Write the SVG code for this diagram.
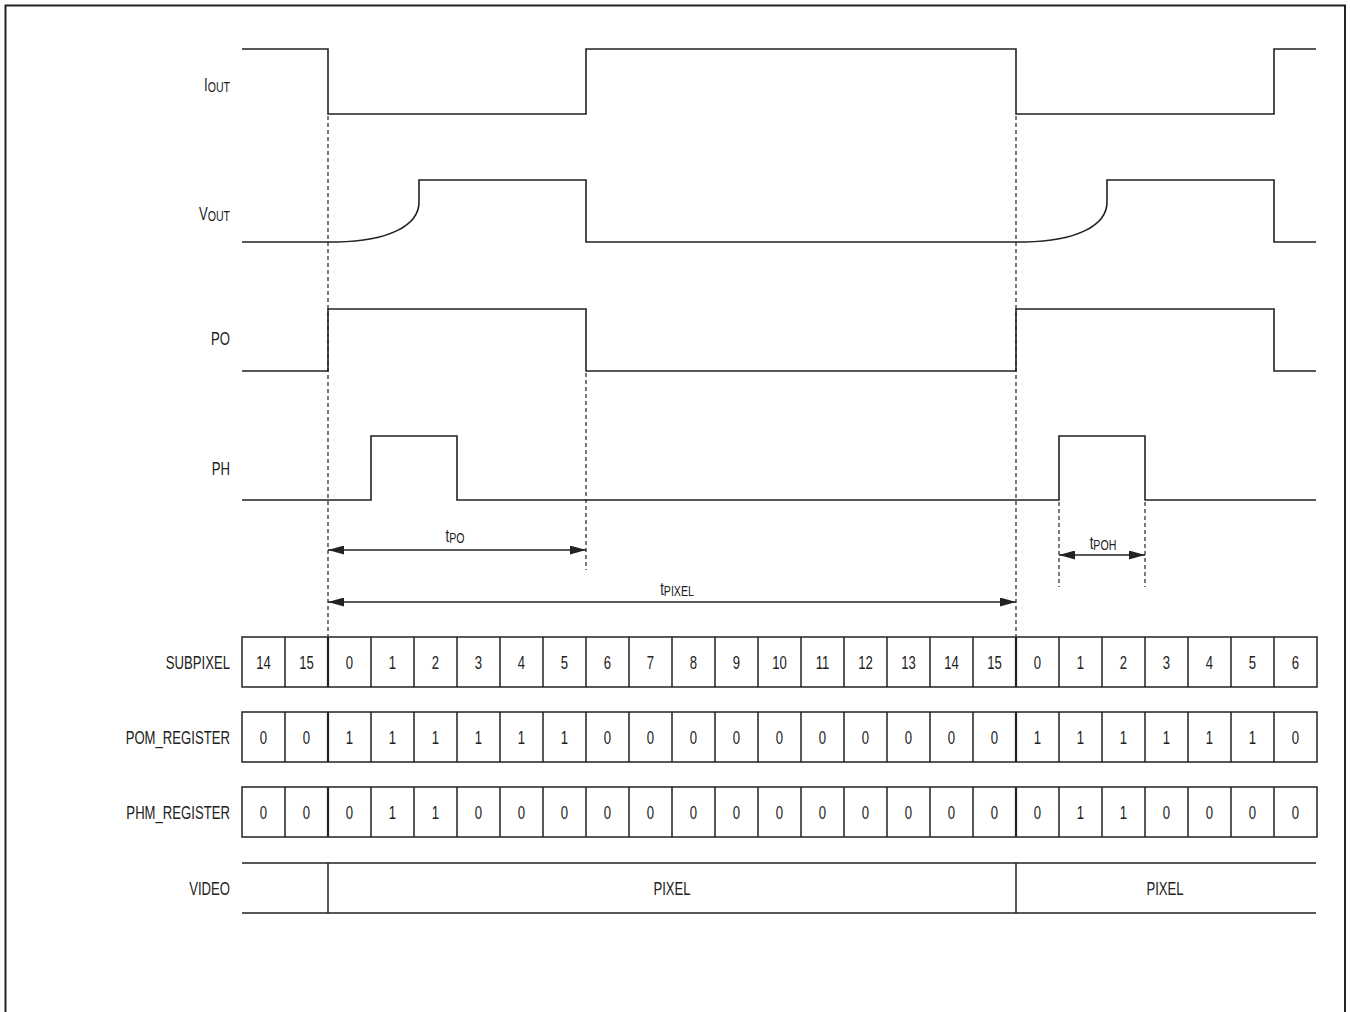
<svg xmlns="http://www.w3.org/2000/svg" width="1350" height="1012" viewBox="0 0 1350 1012">
<defs>
<style>
.bg{fill:#fff}
.frame{fill:none;stroke:#222;stroke-width:2}
.wave{fill:none;stroke:#222;stroke-width:1.6;stroke-linejoin:miter}
.dash{fill:none;stroke:#222;stroke-width:1.2;stroke-dasharray:4 3}
.dim{fill:none;stroke:#222;stroke-width:1.4}
.cell{fill:none;stroke:#222;stroke-width:1.5}
.bold{fill:none;stroke:#222;stroke-width:2.2}
text{font-family:"Liberation Sans",Arial,sans-serif;font-size:18px;fill:#222}
.lbl{text-anchor:end}
.c{text-anchor:middle}
.sub{font-size:14.5px}
</style>
<marker id="ah" viewBox="0 0 16 9" refX="16" refY="4.5" markerWidth="16" markerHeight="9" markerUnits="userSpaceOnUse" orient="auto-start-reverse">
<path d="M0,0 L16,4.5 L0,9 Z" fill="#222"/>
</marker>
</defs>
<rect class="bg" x="0" y="0" width="1350" height="1012"/>
<path class="frame" d="M5.5,1020 V5.5 H1345 V1020"/>

<g id="signal-labels">
<text class="lbl" transform="translate(230 91) scale(.73 1)">I<tspan class="sub" dy="1">OUT</tspan></text>
<text class="lbl" transform="translate(230 220) scale(.73 1)">V<tspan class="sub" dy="1">OUT</tspan></text>
<text class="lbl" transform="translate(230 345) scale(.73 1)">PO</text>
<text class="lbl" transform="translate(230 475) scale(.73 1)">PH</text>
</g>

<g id="iout">
<path class="wave" d="M242,49 H328 V114 H586 V49 H1016 V114 H1274 V49 H1316"/>
</g>
<g id="vout">
<path class="wave" d="M242,242 H337 C388,241 419,226 419,202 V180 H586 V242 H1025 C1076,241 1107,226 1107,202 V180 H1274 V242 H1316"/>
</g>
<g id="po">
<path class="wave" d="M242,371 H328 V309 H586 V371 H1016 V309 H1274 V371 H1316"/>
</g>
<g id="ph">
<path class="wave" d="M242,500 H371 V436 H457 V500 H1059 V436 H1145 V500 H1316"/>
</g>

<g id="connectors">
<line class="dash" x1="328" y1="116" x2="328" y2="636"/>
<line class="dash" x1="586" y1="373" x2="586" y2="570"/>
<line class="dash" x1="1016" y1="116" x2="1016" y2="636"/>
<line class="dash" x1="1059" y1="502" x2="1059" y2="587"/>
<line class="dash" x1="1145" y1="502" x2="1145" y2="587"/>
<line class="dim" x1="328" y1="550" x2="586" y2="550" marker-start="url(#ah)" marker-end="url(#ah)"/>
<line class="dim" x1="328" y1="602" x2="1016" y2="602" marker-start="url(#ah)" marker-end="url(#ah)"/>
<line class="dim" x1="1059" y1="555" x2="1145" y2="555" marker-start="url(#ah)" marker-end="url(#ah)"/>
</g>

<g id="timing-labels">
<text class="c" transform="translate(455 542) scale(.73 1)">t<tspan class="sub" dy="1">PO</tspan></text>
<text class="c" transform="translate(677 595) scale(.73 1)">t<tspan class="sub" dy="1">PIXEL</tspan></text>
<text class="c" transform="translate(1103 549) scale(.73 1)">t<tspan class="sub" dy="1">POH</tspan></text>
</g>

<g id="subpixel">
<text class="lbl" transform="translate(230 668.5) scale(.73 1)">SUBPIXEL</text>
<rect class="cell" x="242" y="637" width="1075" height="50"/>
<path class="cell" d="M285,637V687M371,637V687M414,637V687M457,637V687M500,637V687M543,637V687M586,637V687M629,637V687M672,637V687M715,637V687M758,637V687M801,637V687M844,637V687M887,637V687M930,637V687M973,637V687M1059,637V687M1102,637V687M1145,637V687M1188,637V687M1231,637V687M1274,637V687"/>
<path class="bold" d="M328,637V687M1016,637V687"/>
<g class="c">
<text class="c" transform="translate(263.5 668.5) scale(.73 1)">14</text>
<text class="c" transform="translate(306.5 668.5) scale(.73 1)">15</text>
<text class="c" transform="translate(349.5 668.5) scale(.73 1)">0</text>
<text class="c" transform="translate(392.5 668.5) scale(.73 1)">1</text>
<text class="c" transform="translate(435.5 668.5) scale(.73 1)">2</text>
<text class="c" transform="translate(478.5 668.5) scale(.73 1)">3</text>
<text class="c" transform="translate(521.5 668.5) scale(.73 1)">4</text>
<text class="c" transform="translate(564.5 668.5) scale(.73 1)">5</text>
<text class="c" transform="translate(607.5 668.5) scale(.73 1)">6</text>
<text class="c" transform="translate(650.5 668.5) scale(.73 1)">7</text>
<text class="c" transform="translate(693.5 668.5) scale(.73 1)">8</text>
<text class="c" transform="translate(736.5 668.5) scale(.73 1)">9</text>
<text class="c" transform="translate(779.5 668.5) scale(.73 1)">10</text>
<text class="c" transform="translate(822.5 668.5) scale(.73 1)">11</text>
<text class="c" transform="translate(865.5 668.5) scale(.73 1)">12</text>
<text class="c" transform="translate(908.5 668.5) scale(.73 1)">13</text>
<text class="c" transform="translate(951.5 668.5) scale(.73 1)">14</text>
<text class="c" transform="translate(994.5 668.5) scale(.73 1)">15</text>
<text class="c" transform="translate(1037.5 668.5) scale(.73 1)">0</text>
<text class="c" transform="translate(1080.5 668.5) scale(.73 1)">1</text>
<text class="c" transform="translate(1123.5 668.5) scale(.73 1)">2</text>
<text class="c" transform="translate(1166.5 668.5) scale(.73 1)">3</text>
<text class="c" transform="translate(1209.5 668.5) scale(.73 1)">4</text>
<text class="c" transform="translate(1252.5 668.5) scale(.73 1)">5</text>
<text class="c" transform="translate(1295.5 668.5) scale(.73 1)">6</text>
</g>
</g>

<g id="pom-register">
<text class="lbl" transform="translate(230 743.5) scale(.73 1)">POM_REGISTER</text>
<rect class="cell" x="242" y="712" width="1075" height="50"/>
<path class="cell" d="M285,712V762M371,712V762M414,712V762M457,712V762M500,712V762M543,712V762M586,712V762M629,712V762M672,712V762M715,712V762M758,712V762M801,712V762M844,712V762M887,712V762M930,712V762M973,712V762M1059,712V762M1102,712V762M1145,712V762M1188,712V762M1231,712V762M1274,712V762"/>
<path class="bold" d="M328,712V762M1016,712V762"/>
<text class="c" transform="translate(263.5 743.5) scale(.73 1)">0</text>
<text class="c" transform="translate(306.5 743.5) scale(.73 1)">0</text>
<text class="c" transform="translate(349.5 743.5) scale(.73 1)">1</text>
<text class="c" transform="translate(392.5 743.5) scale(.73 1)">1</text>
<text class="c" transform="translate(435.5 743.5) scale(.73 1)">1</text>
<text class="c" transform="translate(478.5 743.5) scale(.73 1)">1</text>
<text class="c" transform="translate(521.5 743.5) scale(.73 1)">1</text>
<text class="c" transform="translate(564.5 743.5) scale(.73 1)">1</text>
<text class="c" transform="translate(607.5 743.5) scale(.73 1)">0</text>
<text class="c" transform="translate(650.5 743.5) scale(.73 1)">0</text>
<text class="c" transform="translate(693.5 743.5) scale(.73 1)">0</text>
<text class="c" transform="translate(736.5 743.5) scale(.73 1)">0</text>
<text class="c" transform="translate(779.5 743.5) scale(.73 1)">0</text>
<text class="c" transform="translate(822.5 743.5) scale(.73 1)">0</text>
<text class="c" transform="translate(865.5 743.5) scale(.73 1)">0</text>
<text class="c" transform="translate(908.5 743.5) scale(.73 1)">0</text>
<text class="c" transform="translate(951.5 743.5) scale(.73 1)">0</text>
<text class="c" transform="translate(994.5 743.5) scale(.73 1)">0</text>
<text class="c" transform="translate(1037.5 743.5) scale(.73 1)">1</text>
<text class="c" transform="translate(1080.5 743.5) scale(.73 1)">1</text>
<text class="c" transform="translate(1123.5 743.5) scale(.73 1)">1</text>
<text class="c" transform="translate(1166.5 743.5) scale(.73 1)">1</text>
<text class="c" transform="translate(1209.5 743.5) scale(.73 1)">1</text>
<text class="c" transform="translate(1252.5 743.5) scale(.73 1)">1</text>
<text class="c" transform="translate(1295.5 743.5) scale(.73 1)">0</text>
</g>

<g id="phm-register">
<text class="lbl" transform="translate(230 818.5) scale(.73 1)">PHM_REGISTER</text>
<rect class="cell" x="242" y="787" width="1075" height="50"/>
<path class="cell" d="M285,787V837M371,787V837M414,787V837M457,787V837M500,787V837M543,787V837M586,787V837M629,787V837M672,787V837M715,787V837M758,787V837M801,787V837M844,787V837M887,787V837M930,787V837M973,787V837M1059,787V837M1102,787V837M1145,787V837M1188,787V837M1231,787V837M1274,787V837"/>
<path class="bold" d="M328,787V837M1016,787V837"/>
<text class="c" transform="translate(263.5 818.5) scale(.73 1)">0</text>
<text class="c" transform="translate(306.5 818.5) scale(.73 1)">0</text>
<text class="c" transform="translate(349.5 818.5) scale(.73 1)">0</text>
<text class="c" transform="translate(392.5 818.5) scale(.73 1)">1</text>
<text class="c" transform="translate(435.5 818.5) scale(.73 1)">1</text>
<text class="c" transform="translate(478.5 818.5) scale(.73 1)">0</text>
<text class="c" transform="translate(521.5 818.5) scale(.73 1)">0</text>
<text class="c" transform="translate(564.5 818.5) scale(.73 1)">0</text>
<text class="c" transform="translate(607.5 818.5) scale(.73 1)">0</text>
<text class="c" transform="translate(650.5 818.5) scale(.73 1)">0</text>
<text class="c" transform="translate(693.5 818.5) scale(.73 1)">0</text>
<text class="c" transform="translate(736.5 818.5) scale(.73 1)">0</text>
<text class="c" transform="translate(779.5 818.5) scale(.73 1)">0</text>
<text class="c" transform="translate(822.5 818.5) scale(.73 1)">0</text>
<text class="c" transform="translate(865.5 818.5) scale(.73 1)">0</text>
<text class="c" transform="translate(908.5 818.5) scale(.73 1)">0</text>
<text class="c" transform="translate(951.5 818.5) scale(.73 1)">0</text>
<text class="c" transform="translate(994.5 818.5) scale(.73 1)">0</text>
<text class="c" transform="translate(1037.5 818.5) scale(.73 1)">0</text>
<text class="c" transform="translate(1080.5 818.5) scale(.73 1)">1</text>
<text class="c" transform="translate(1123.5 818.5) scale(.73 1)">1</text>
<text class="c" transform="translate(1166.5 818.5) scale(.73 1)">0</text>
<text class="c" transform="translate(1209.5 818.5) scale(.73 1)">0</text>
<text class="c" transform="translate(1252.5 818.5) scale(.73 1)">0</text>
<text class="c" transform="translate(1295.5 818.5) scale(.73 1)">0</text>
</g>

<g id="video">
<text class="lbl" transform="translate(230 894.5) scale(.73 1)">VIDEO</text>
<path class="cell" d="M242,863 H1316 M242,913 H1316 M328,863 V913 M1016,863 V913"/>
<text class="c" transform="translate(672 894.5) scale(.73 1)">PIXEL</text>
<text class="c" transform="translate(1165 894.5) scale(.73 1)">PIXEL</text>
</g>
</svg>
